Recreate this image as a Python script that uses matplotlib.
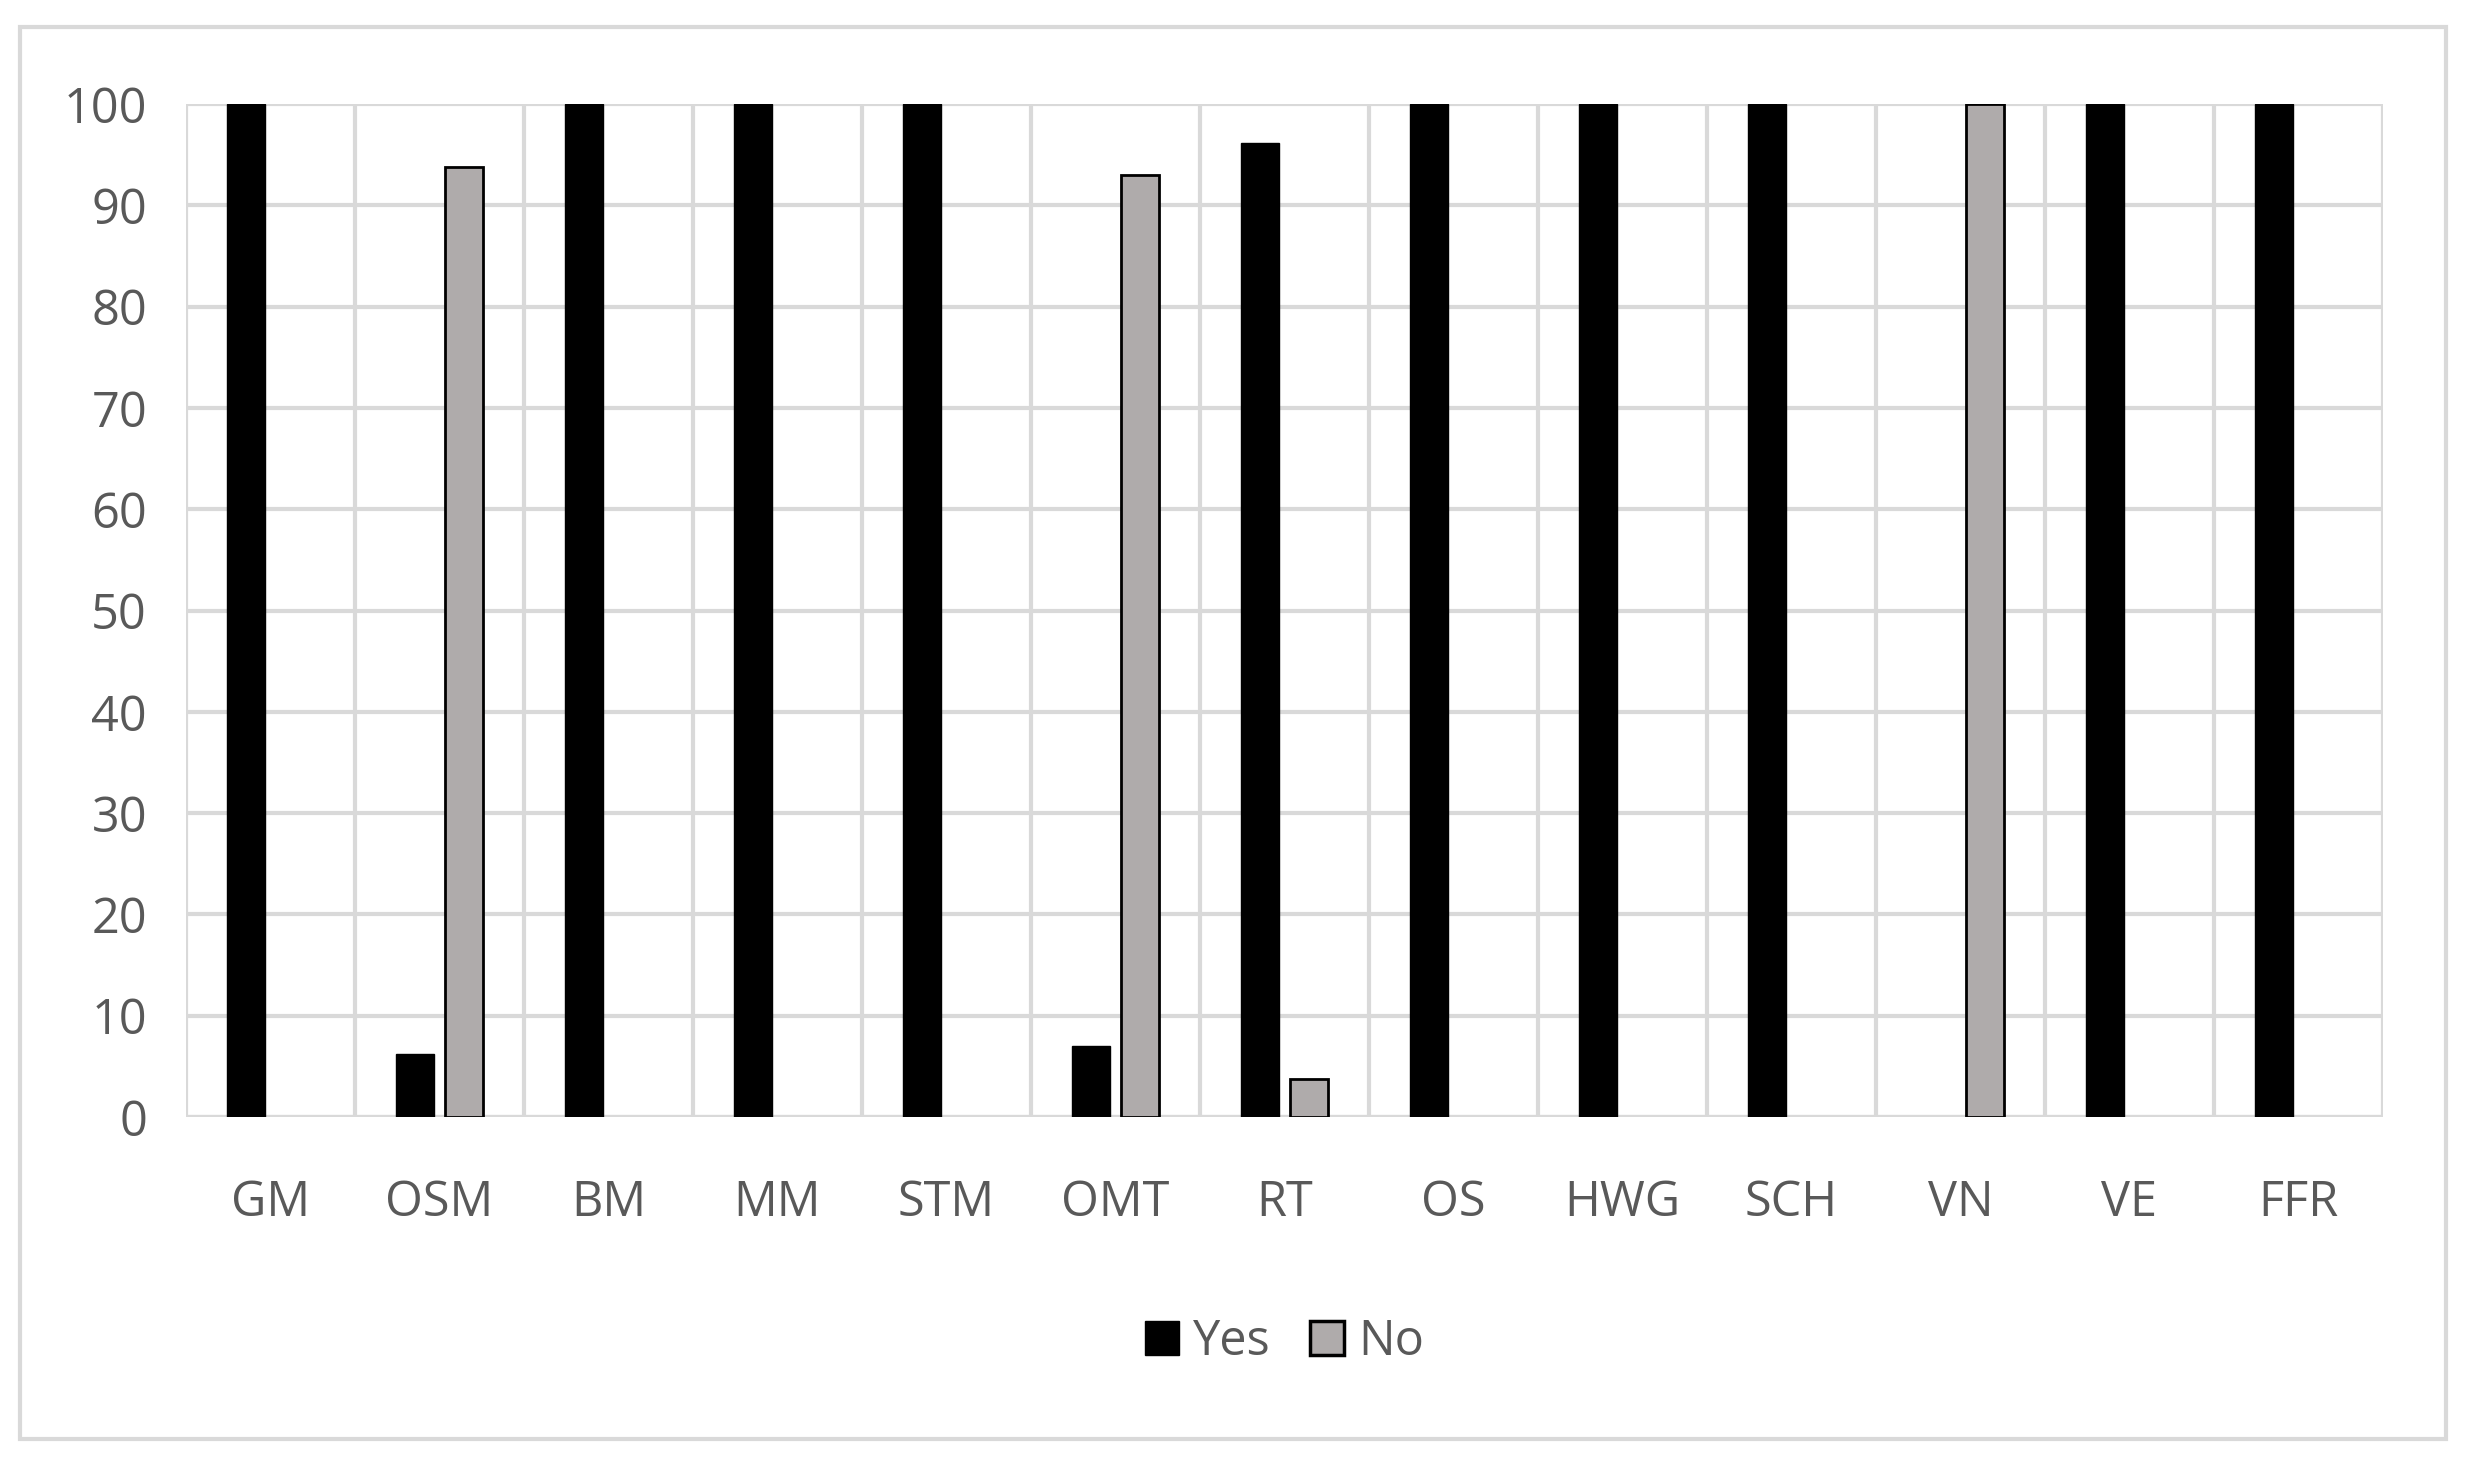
import numpy as np
import matplotlib.pyplot as plt
from matplotlib.patches import Rectangle

categories = ['GM', 'OSM', 'BM', 'MM', 'STM', 'OMT', 'RT', 'OS', 'HWG', 'SCH', 'VN', 'VE', 'FFR']
yes_vals = [100, 6.2, 100, 100, 100, 7, 96.2, 100, 100, 100, 0, 100, 100]
no_vals = [0, 93.8, 0, 0, 0, 93, 3.8, 0, 0, 0, 100, 0, 0]
yticks = list(range(0, 101, 10))

plt.rcParams['font.family'] = ['Open Sans', 'DejaVu Sans']
txt = '#595959'
grid = '#d9d9d9'

fig = plt.figure(figsize=(24.66, 14.63), dpi=100)
ax = fig.add_axes([0.0754, 0.2365, 0.8909, 0.6924])

x = np.arange(len(categories))
w = 0.223
off = 0.144
# no outline on empty bars
ax.bar(x - off, yes_vals, w, color='black', edgecolor='black',
       linewidth=[1 if v > 0 else 0 for v in yes_vals], label='Yes', zorder=3)
ax.bar(x + off, no_vals, w, color='#afabab', edgecolor='black',
       linewidth=[2 if v > 0 else 0 for v in no_vals], label='No', zorder=3)

ax.set_xlim(-0.5, len(categories) - 0.5)
ax.set_ylim(0, 100)
ax.set_yticks(yticks)
ax.set_yticklabels([str(v) for v in yticks], fontsize=35, color=txt)
ax.set_xticks(x)
ax.set_xticklabels(categories, fontsize=35, color=txt)
ax.tick_params(length=0)
ax.tick_params(axis='y', pad=28)
ax.tick_params(axis='x', pad=44)

ax.set_xticks(np.arange(-0.5, len(categories), 1), minor=True)
ax.tick_params(which='minor', length=0)
ax.grid(axis='y', which='major', color=grid, linewidth=3, zorder=0)
ax.grid(axis='x', which='minor', color=grid, linewidth=3, zorder=0)
ax.grid(axis='x', which='major', visible=False)
for s in ax.spines.values():
    s.set_visible(False)
ax.axhline(0, color=grid, linewidth=3, zorder=1)

leg = ax.legend(loc='upper center', bbox_to_anchor=(0.5, -0.155), ncol=2, frameon=False,
                fontsize=35, handlelength=0.7, handleheight=0.7, handletextpad=0.3,
                columnspacing=0.8)
for t in leg.get_texts():
    t.set_color(txt)
for h, lw in zip(leg.legend_handles, [1, 2.5]):
    h.set_linewidth(lw)
    h.set_edgecolor('black')

fig.patches.append(Rectangle((0.0081, 0.0164), 0.9838, 0.9651, transform=fig.transFigure,
                             fill=False, edgecolor=grid, linewidth=3))

fig.savefig('out.png', dpi=100)
